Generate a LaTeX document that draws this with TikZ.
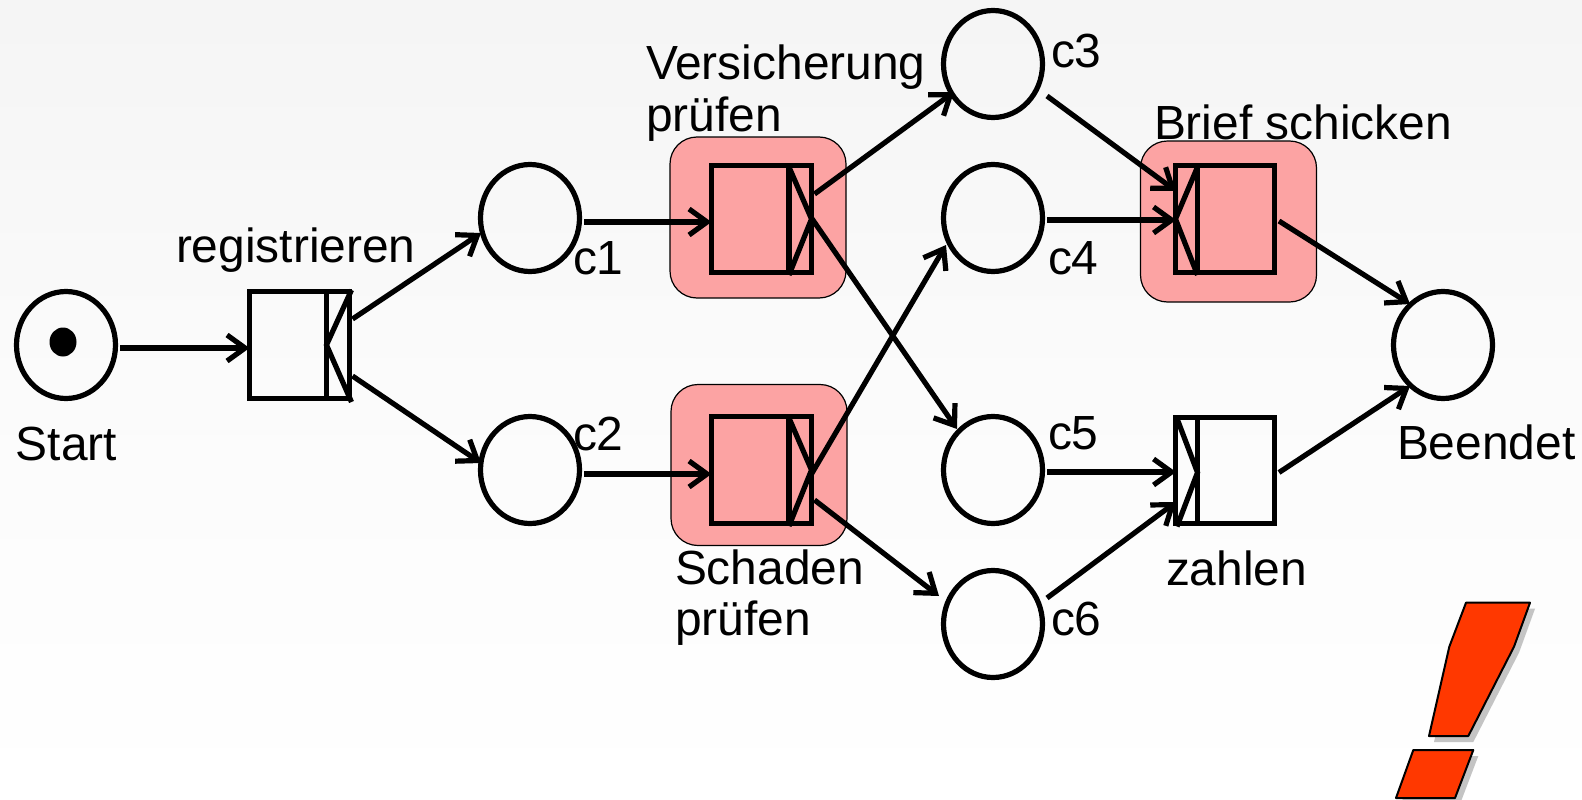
\documentclass[tikz,border=0pt]{standalone}
\usepackage{fontspec}
\setmainfont{Liberation Sans}
\usetikzlibrary{arrows.meta,calc,shapes.geometric}
\definecolor{hl}{HTML}{FCA3A3}
\definecolor{bang}{HTML}{FF3800}
\definecolor{bangshadow}{HTML}{C4C4C4}
\tikzset{
  place/.style={ellipse,draw=black,line width=5.2pt,minimum width=99pt,minimum height=107pt,inner sep=0pt,outer sep=0pt},
  token/.style={ellipse,fill=black,minimum width=27pt,minimum height=29pt,inner sep=0pt,outer sep=0pt},
  trans/.style={rectangle,draw=black,line width=5.2pt,minimum width=99.5pt,minimum height=106.5pt,inner sep=0pt,outer sep=0pt},
  halo/.style={rectangle,rounded corners=27pt,fill=hl,draw=black,line width=1.2pt,minimum width=176pt,minimum height=161pt,inner sep=0pt,outer sep=0pt},
  tline/.style={line width=5.2pt,draw=black},
  conn/.style={line width=5.2pt,draw=black,-{Straight Barb[length=18pt,width=26pt,line width=5.2pt]}},
  lab/.style={anchor=base west,inner sep=0pt,outer sep=0pt,font=\fontsize{47.9pt}{50pt}\selectfont,text=black},
  bangp/.style={fill=bang,draw=black,line width=2pt,line join=round},
  bangs/.style={fill=bangshadow},
}
\newcommand{\outleft}[1]{%
  \draw[tline] ($(#1)+(-27.5,-53)$) -- ++(0,106);
  \draw[tline] ($(#1)+(-27.5,-52)$) -- ($(#1)+(-49.5,0)$) -- ($(#1)+(-27.5,56)$);
}
\newcommand{\outright}[1]{%
  \draw[tline] ($(#1)+(27.5,-53)$) -- ++(0,106);
  \draw[tline] ($(#1)+(27.5,-52)$) -- ($(#1)+(50,0)$) -- ($(#1)+(27.5,56)$);
}
\begin{document}
\begin{tikzpicture}[x=1pt,y=-1pt]
\useasboundingbox (0,0) rectangle (1582,800);
\shade[top color=black!4,bottom color=white,middle color=black!1.5] (0,0) rectangle (1582,800);

% highlight boxes
\node[halo] (hvp) at (758,217.5) {};
\node[halo] (hsp) at (759,465) {};
\node[halo] (hbs) at (1228.5,221.5) {};

% places
\node[place] (start) at (66,345) {};
\node[token] (tok) at (63,342) {};
\node[place] (c1) at (530,218) {};
\node[place] (c2) at (530,470) {};
\node[place] (c3) at (993,64) {};
\node[place] (c4) at (993,218) {};
\node[place] (c5) at (993,470) {};
\node[place] (c6) at (993,624) {};
\node[place] (end) at (1443,345) {};

% transitions
\node[trans] (reg) at (299.5,345) {};
\node[trans] (vp) at (761.5,219) {};
\node[trans] (sp) at (761.5,470) {};
\node[trans] (bs) at (1225,219) {};
\node[trans] (za) at (1225,470.5) {};
\draw[tline] ($(reg)+(27,-53)$) -- ++(0,106);
\draw[tline] ($(reg)+(52,-55)$) -- ($(reg)+(27,0)$) -- ($(reg)+(52,57)$);
\outright{vp}
\outright{sp}
\outleft{bs}
\draw[tline] ($(za)+(-27.5,-53)$) -- ++(0,106);
\draw[tline] ($(za)+(-48,-52)$) -- ($(za)+(-27.5,2)$) -- ($(za)+(-48,56)$);

% connectors
\draw[conn] ($(start)+(54,3)$) -- ($(reg)+(-50,3)$);
\draw[conn] ($(reg)+(53,-26)$) -- ($(c1)+(-49,15)$);
\draw[conn] ($(reg)+(53,31)$) -- ($(c2)+(-49,-7)$);
\draw[conn] ($(c1)+(54,4)$) -- ($(vp)+(-50,3)$);
\draw[conn] ($(c2)+(54,4)$) -- ($(sp)+(-50,4)$);
\draw[conn] ($(vp)+(53,-25)$) -- ($(c3)+(-39,28)$);
\draw[conn] ($(vp)+(50,-1)$) -- ($(c5)+(-36,-41)$);
\draw[conn] ($(sp)+(50,4)$) -- ($(c4)+(-47,27)$);
\draw[conn] ($(sp)+(53,30)$) -- ($(c6)+(-54,-28)$);
\draw[conn] ($(c3)+(54,32)$) -- ($(bs)+(-49,-28)$);
\draw[conn] ($(c4)+(54,2)$) -- ($(bs)+(-49,1)$);
\draw[conn] ($(c5)+(54,2)$) -- ($(za)+(-49,1.5)$);
\draw[conn] ($(c6)+(54,-26)$) -- ($(za)+(-49,31.5)$);
\draw[conn] ($(bs)+(54,2)$) -- ($(end)+(-33,-41)$);
\draw[conn] ($(za)+(54,2)$) -- ($(end)+(-33,41)$);

% labels
\node[lab] (lstart) at (16,460) {Start};
\node[lab] (lreg) at (176,262) {registrieren};
\node[lab] (lc1) at (573,274) {c1};
\node[lab] (lc2) at (573,450) {c2};
\node[lab] (lv1) at (646,80) {Versicherung};
\node[lab] (lv2) at (646,131) {prüfen};
\node[lab] (ls1) at (675,584) {Schaden};
\node[lab] (ls2) at (675,635) {prüfen};
\node[lab] (lc3) at (1051,67) {c3};
\node[lab] (lc4) at (1048,274) {c4};
\node[lab] (lc5) at (1048,449) {c5};
\node[lab] (lc6) at (1051,635) {c6};
\node[lab] (lbs) at (1154,139) {Brief schicken};
\node[lab] (lza) at (1166,585) {zahlen};
\node[lab] (lend) at (1397,459) {Beendet};

% exclamation mark
\begin{scope}[shift={(5,6)}]
\fill[bangs] (1466,602.7) -- (1530,602.7) -- (1514,646.7) -- (1468.3,736) -- (1429,736) -- (1449.3,646.7) -- cycle;
\fill[bangs] (1413.3,750) -- (1473.3,750) -- (1455,798) -- (1396,798) -- cycle;
\end{scope}
\path[bangp] (1466,602.7) -- (1530,602.7) -- (1514,646.7) -- (1468.3,736) -- (1429,736) -- (1449.3,646.7) -- cycle;
\path[bangp] (1413.3,750) -- (1473.3,750) -- (1455,798) -- (1396,798) -- cycle;
\end{tikzpicture}
\end{document}
